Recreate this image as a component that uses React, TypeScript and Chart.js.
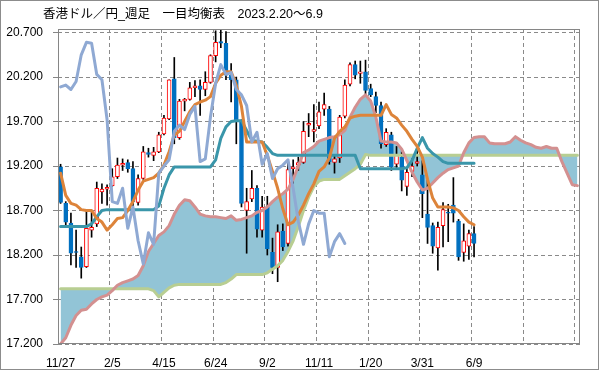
import React, { useEffect, useRef } from 'react';
import { Chart, registerables } from 'chart.js';

Chart.register(...registerables);

const TITLE = '香港ドル／円_週足　一目均衡表　2023.2.20〜6.9';

// one x label every 10 weeks (categories 0,10,20,...)
const tickLabels = ['11/27', '2/5', '4/15', '6/24', '9/2', '11/11', '1/20', '3/31', '6/9', '', ''];
const yTicks = [17.2, 17.7, 18.2, 18.7, 19.2, 19.7, 20.2, 20.7];
const CATEGORY_COUNT = 101;

// weekly candles (81 weeks)
const opens = [
  19.19, 18.78, 18.56, 18.24, 18.18, 18.07, 18.48, 18.55, 18.91, 18.94,
  18.98, 19.08, 19.21, 19.24, 19.17, 18.79, 19.06, 19.35, 19.32, 19.36,
  19.56, 19.73, 20.18, 19.52, 19.93, 19.95, 20.08, 20.10, 20.06, 20.14,
  20.44, 20.60, 20.58, 20.22, 20.17, 19.70, 18.70, 18.83, 18.95, 18.48,
  18.74, 18.23, 18.06, 18.47, 18.33, 19.17, 19.21, 19.24, 19.66, 19.59,
  19.65, 19.84, 19.84, 19.24, 19.29, 19.76, 20.12, 20.34, 20.24, 20.26,
  20.07, 19.98, 19.88, 19.44, 19.55, 19.22, 19.30, 18.97, 19.14, 19.23,
  19.10, 18.66, 18.53, 18.28, 18.53, 18.68, 18.76, 18.58, 18.23, 18.30,
  18.44,
];
const highs = [
  19.22, 18.80, 18.67, 18.48, 18.29, 18.69, 18.69, 19.02, 19.00, 18.99,
  19.17, 19.29, 19.28, 19.27, 19.25, 19.10, 19.42, 19.40, 19.41, 19.58,
  19.77, 20.17, 20.42, 19.95, 19.96, 20.14, 20.16, 20.17, 20.26, 20.45,
  20.72, 20.73, 20.71, 20.35, 20.20, 19.72, 18.95, 19.15, 18.98, 18.86,
  18.86, 18.39, 18.54, 18.55, 19.27, 19.27, 19.30, 19.70, 19.79, 19.89,
  19.92, 20.02, 19.87, 19.32, 19.77, 20.17, 20.36, 20.38, 20.38, 20.39,
  20.12, 20.03, 19.92, 19.62, 19.58, 19.42, 19.36, 19.17, 19.28, 19.40,
  19.26, 19.04, 18.56, 18.57, 18.79, 18.77, 19.07, 18.60, 18.55, 18.48,
  18.52,
];
const lows = [
  18.78, 18.54, 18.09, 18.06, 17.94, 18.06, 18.40, 18.52, 18.78, 18.76,
  18.97, 19.06, 19.15, 19.13, 18.74, 18.76, 19.05, 19.30, 19.26, 19.35,
  19.55, 19.72, 19.45, 19.50, 19.82, 19.94, 19.98, 19.77, 19.99, 20.13,
  20.37, 20.53, 20.17, 19.92, 19.45, 18.74, 18.22, 18.80, 18.40, 18.40,
  18.20, 17.99, 17.90, 18.25, 18.30, 18.99, 19.15, 19.23, 19.53, 19.47,
  19.62, 19.77, 19.22, 19.12, 19.24, 19.74, 20.10, 20.18, 20.13, 20.00,
  19.98, 19.80, 19.40, 19.42, 19.15, 19.17, 18.92, 18.87, 19.08, 19.20,
  18.62, 18.33, 18.22, 18.03, 18.29, 18.35, 18.57, 18.14, 18.13, 18.15,
  18.18,
];
const closes = [
  18.79, 18.57, 18.22, 18.23, 18.06, 18.50, 18.51, 18.95, 18.94, 18.96,
  19.08, 19.21, 19.23, 19.17, 18.80, 19.06, 19.36, 19.33, 19.36, 19.55,
  19.74, 20.17, 19.52, 19.93, 19.95, 20.08, 20.10, 20.06, 20.14, 20.44,
  20.59, 20.58, 20.22, 20.17, 19.70, 18.78, 18.80, 18.95, 18.49, 18.74,
  18.27, 18.06, 18.46, 18.29, 19.16, 19.19, 19.24, 19.59, 19.68, 19.61,
  19.81, 19.89, 19.25, 19.28, 19.75, 20.11, 20.34, 20.22, 20.26, 20.05,
  20.00, 19.88, 19.45, 19.58, 19.19, 19.32, 19.04, 19.13, 19.20, 19.25,
  18.89, 18.51, 18.30, 18.51, 18.71, 18.67, 18.67, 18.18, 18.36, 18.44,
  18.33,
];

// 転換線
const tenkan = [
  19.12, 18.87, 18.78, 18.76, 18.71, 18.70, 18.70, 18.61, 18.57, 18.48,
  18.54, 18.61, 18.62, 18.70, 18.80, 18.93, 19.03, 19.05, 19.07, 19.12,
  19.21, 19.36, 19.55, 19.59, 19.70, 19.81, 19.89, 19.92, 19.94, 19.98,
  20.13, 20.22, 20.26, 20.26, 20.11, 19.87, 19.47, 19.47, 19.47, 19.47,
  19.32, 19.14, 18.95, 18.72, 18.54, 18.57, 18.65, 18.76, 18.89, 19.00,
  19.14, 19.19, 19.29, 19.51, 19.59, 19.64, 19.74, 19.76, 19.77, 19.77,
  19.77, 19.77, 19.77, 19.89, 19.78, 19.74, 19.66, 19.59, 19.50, 19.42,
  19.30, 19.05, 18.84, 18.74, 18.74, 18.74, 18.73, 18.70, 18.63, 18.57,
  18.54,
];
// 基準線
const kijun = [
  18.52, 18.52, 18.52, 18.52, 18.52, 18.52, 18.55, 18.63, 18.70, 18.71,
  18.71, 18.71, 18.71, 18.71, 18.71, 18.71, 18.71, 18.71, 18.71, 18.75,
  18.95, 19.10, 19.19, 19.19, 19.19, 19.19, 19.19, 19.19, 19.19, 19.19,
  19.27, 19.51, 19.64, 19.70, 19.71, 19.71, 19.60, 19.49, 19.48, 19.47,
  19.41, 19.34, 19.32, 19.32, 19.32, 19.32, 19.32, 19.32, 19.32, 19.32,
  19.32, 19.32, 19.32, 19.32, 19.32, 19.32, 19.32, 19.32, 19.17, 19.17,
  19.17, 19.17, 19.17, 19.17, 19.17, 19.17, 19.17, 19.18, 19.26, 19.40,
  19.52, 19.40, 19.34, 19.30, 19.25, 19.23, 19.23, 19.23, 19.23, 19.23,
  19.23,
];
// 遅行スパン
const chikou = [
  20.09, 20.11, 20.06, 20.15, 20.45, 20.59, 20.58, 20.23, 20.17, 19.72,
  18.80, 18.78, 18.95, 18.50, 18.74, 18.36, 18.10, 18.45, 18.32, 19.12,
  19.20, 19.27, 19.59, 19.66, 19.61, 19.78, 19.87, 19.25, 19.28, 19.75,
  20.13, 20.34, 20.23, 20.25, 20.06, 20.00, 19.88, 19.47, 19.58, 19.22,
  19.34, 19.06, 19.17, 19.21, 19.27, 18.95, 18.58, 18.32, 18.55, 18.70,
  18.67, 18.67, 18.18, 18.35, 18.44, 18.33,
];
// 先行スパン1
const senkouA = [
  17.20, 17.27, 17.41, 17.52, 17.58, 17.59, 17.65, 17.70, 17.73, 17.75,
  17.80, 17.86, 17.89, 17.91, 17.93, 17.97, 18.08, 18.24, 18.33, 18.42,
  18.46, 18.53, 18.66, 18.76, 18.82, 18.81, 18.74, 18.66, 18.64, 18.63,
  18.63, 18.62, 18.61, 18.64, 18.59, 18.60, 18.62, 18.64, 18.68, 18.70,
  18.74, 18.80, 18.85, 18.89, 18.94, 19.05, 19.20, 19.35, 19.38, 19.42,
  19.48, 19.50, 19.52, 19.53, 19.55, 19.60, 19.75, 19.86, 19.95, 20.00,
  19.93, 19.75, 19.48, 19.47, 19.47, 19.46, 19.39, 19.26, 19.13, 19.02,
  18.93, 18.95, 19.01, 19.07, 19.12, 19.16, 19.18, 19.20, 19.35, 19.46,
  19.52, 19.53, 19.53, 19.46, 19.45, 19.45, 19.45, 19.47, 19.53, 19.49,
  19.46, 19.44, 19.41, 19.40, 19.42, 19.40, 19.40, 19.25, 19.12, 18.99,
  18.98,
];
// 先行スパン2
const senkouB = [
  17.82, 17.82, 17.82, 17.82, 17.82, 17.82, 17.82, 17.82, 17.82, 17.82,
  17.82, 17.82, 17.82, 17.82, 17.82, 17.82, 17.82, 17.82, 17.80, 17.73,
  17.78, 17.83, 17.86, 17.87, 17.87, 17.87, 17.87, 17.87, 17.87, 17.87,
  17.87, 17.87, 17.89, 17.93, 17.98, 17.98, 17.98, 17.98, 17.98, 17.98,
  18.00, 18.04, 18.08, 18.14, 18.24, 18.36, 18.52, 18.70, 18.85, 18.97,
  19.03, 19.05, 19.05, 19.05, 19.05, 19.09, 19.13, 19.17, 19.22, 19.33,
  19.32, 19.32, 19.32, 19.32, 19.32, 19.32, 19.32, 19.32, 19.32, 19.32,
  19.32, 19.32, 19.32, 19.32, 19.32, 19.32, 19.32, 19.32, 19.32, 19.32,
  19.32, 19.32, 19.32, 19.32, 19.32, 19.32, 19.32, 19.32, 19.32, 19.32,
  19.32, 19.32, 19.32, 19.32, 19.32, 19.32, 19.32, 19.32, 19.32, 19.32,
  19.32,
];

const BLUE = '#0070C0';
const RED = '#FF0000';
const ORANGE = '#DD843A';
const TEAL = '#3A96AA';
const CHIKOU = '#8FA9D3';
const PINK = '#D39090';
const GREEN = '#B8CE92';
const CLOUD = '#92C4D6';
const GRID = '#8A8A8A';
const AXIS = '#868686';
const LABEL_FONT = { family: "'Liberation Sans', Arial, sans-serif", size: 12 };

const framePlugin = {
  id: 'frame',
  afterDatasetsDraw(chart: any) {
    const { ctx, chartArea: a } = chart;
    const l = Math.round(a.left) + 0.5;
    const t = Math.round(a.top) + 0.5;
    const r = Math.round(a.right) - 0.5;
    const b = Math.round(a.bottom) - 0.5;
    ctx.save();
    ctx.setLineDash([]);
    ctx.lineWidth = 1;
    ctx.strokeStyle = AXIS;
    ctx.strokeRect(l, t, r - l, b - t);
    ctx.strokeStyle = '#8C8C8C';
    ctx.strokeRect(0.5, 0.5, chart.width - 1, chart.height - 1);
    ctx.restore();
  },
};

// chart title, left-aligned at the position used in the reference
const titlePlugin = {
  id: 'titleText',
  afterDraw(chart: any) {
    const { ctx } = chart;
    ctx.save();
    ctx.font = "12.5px 'Liberation Sans', 'Noto Sans CJK JP', sans-serif";
    ctx.fillStyle = '#000000';
    ctx.textAlign = 'left';
    ctx.textBaseline = 'middle';
    ctx.fillText(TITLE, 43, 15);
    ctx.restore();
  },
};

export default function App() {
  const ref = useRef<HTMLCanvasElement>(null);

  useEffect(() => {
    document.body.style.margin = '0';
    const canvas = ref.current;
    if (!canvas) return;
    const labels = Array.from({ length: CATEGORY_COUNT }, (_, i) => String(i));
    const bodies = opens.map((o, i) => [o, closes[i]]);
    const wicks = lows.map((l, i) => [l, highs[i]]);
    const rising = opens.map((o, i) => closes[i] >= o);

    const lineBase = {
      type: 'line' as const,
      pointRadius: 0,
      pointHoverRadius: 0,
      tension: 0,
      borderJoinStyle: 'round' as const,
      borderCapStyle: 'round' as const,
    };

    const chart = new Chart(canvas, {
      type: 'bar',
      data: {
        labels,
        datasets: [
          { ...lineBase, label: '先行スパン1', data: senkouA, borderColor: PINK, borderWidth: 3, fill: '+1', backgroundColor: CLOUD, order: 5 },
          { ...lineBase, label: '先行スパン2', data: senkouB, borderColor: GREEN, borderWidth: 3, fill: false, order: 6 },
          { type: 'bar', label: 'ヒゲ', data: wicks as any, backgroundColor: '#000000', barThickness: 1, grouped: false, order: 20 },
          {
            type: 'bar', label: 'ローソク足', data: bodies as any,
            backgroundColor: rising.map((u) => (u ? '#FFFFFF' : BLUE)),
            borderColor: rising.map((u) => (u ? RED : BLUE)),
            borderWidth: 1, borderSkipped: false, barThickness: 4, grouped: false, order: 19,
          },
          { ...lineBase, label: '基準線', data: kijun, borderColor: TEAL, borderWidth: 3, fill: false, order: 4 },
          { ...lineBase, label: '転換線', data: tenkan, borderColor: ORANGE, borderWidth: 3, fill: false, order: 3 },
          { ...lineBase, label: '遅行スパン', data: chikou, borderColor: CHIKOU, borderWidth: 3, fill: false, order: 2 },
        ] as any,
      },
      options: {
        responsive: false,
        animation: false,
        events: [],
        layout: { padding: { left: 0, right: 19, top: 29, bottom: 0 } },
        plugins: {
          legend: { display: false },
          tooltip: { enabled: false },
          title: { display: false },
          filler: { drawTime: 'beforeDatasetsDraw' },
        },
        scales: {
          x: {
            type: 'category',
            offset: true,
            grid: {
              offset: true,
              drawTicks: false,
              lineWidth: 1,
              color: (c: any) => (typeof c.index === 'number' && c.index % 10 === 0 ? GRID : 'rgba(0,0,0,0)'),
            },
            border: { display: false, dash: [4, 3] },
            ticks: {
              autoSkip: false,
              maxRotation: 0,
              minRotation: 0,
              padding: 12,
              color: '#000000',
              font: LABEL_FONT,
              callback: (_v: any, i: number) => (i % 10 === 0 ? tickLabels[i / 10] ?? '' : ''),
            },
            afterFit: (s: any) => { s.height = 26; },
          },
          y: {
            type: 'linear',
            min: 17.2,
            max: 20.74,
            afterBuildTicks: (s: any) => { s.ticks = yTicks.map((v) => ({ value: v })); },
            grid: { color: GRID, lineWidth: 1, drawTicks: true, tickLength: 5, tickColor: AXIS, tickBorderDash: [] },
            border: { display: false, dash: [4, 3] },
            ticks: {
              padding: 10,
              color: '#000000',
              font: LABEL_FONT,
              callback: (v: any) => Number(v).toFixed(3),
            },
            afterFit: (s: any) => { s.width = 58; },
          },
        },
      },
      plugins: [framePlugin, titlePlugin],
    });
    return () => chart.destroy();
  }, []);

  return (
    <div style={{ width: 599, height: 370, background: '#ffffff' }}>
      <canvas ref={ref} width={599} height={370} style={{ display: 'block' }} />
    </div>
  );
}
